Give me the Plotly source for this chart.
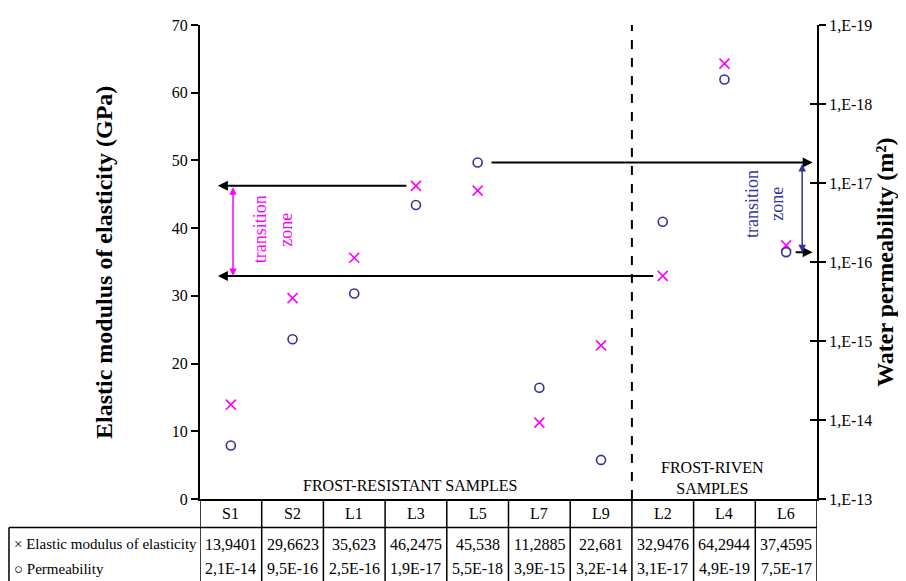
import math
import plotly.graph_objects as go

samples = ["S1", "S2", "L1", "L3", "L5", "L7", "L9", "L2", "L4", "L6"]
elastic = [13.9401, 29.6623, 35.623, 46.2475, 45.538, 11.2885, 22.681, 32.9476, 64.2944, 37.4595]
elastic_txt = ["13,9401", "29,6623", "35,623", "46,2475", "45,538", "11,2885", "22,681", "32,9476", "64,2944", "37,4595"]
perm = [2.1e-14, 9.5e-16, 2.5e-16, 1.9e-17, 5.5e-18, 3.9e-15, 3.2e-14, 3.1e-17, 4.9e-19, 7.5e-17]
perm_txt = ["2,1E-14", "9,5E-16", "2,5E-16", "1,9E-17", "5,5E-18", "3,9E-15", "3,2E-14", "3,1E-17", "4,9E-19", "7,5E-17"]
perm_ticks = [1e-13, 1e-14, 1e-15, 1e-16, 1e-17, 1e-18, 1e-19]
perm_ticktext = ["1,E-13", "1,E-14", "1,E-15", "1,E-16", "1,E-17", "1,E-18", "1,E-19"]
elastic_ticks = [0, 10, 20, 30, 40, 50, 60, 70]

FONT = "Liberation Serif"
MAG = "#FF00FF"
BLUE = "#333399"
idx = list(range(len(samples)))

fig = go.Figure()
fig.add_trace(go.Scatter(x=idx, y=elastic, mode="markers", xaxis="x", yaxis="y",
                         marker=dict(symbol="x-thin", size=10, line=dict(color=MAG, width=1.6)),
                         name="Elastic modulus of elasticity"))
fig.add_trace(go.Scatter(x=idx, y=perm, mode="markers", xaxis="x", yaxis="y2",
                         marker=dict(symbol="circle-open", size=9, color=BLUE, line=dict(color=BLUE, width=1.6)),
                         name="Permeability"))
fig.add_trace(go.Scatter(x=idx, y=perm, mode="none", xaxis="x", yaxis="y3",
                         showlegend=False, hoverinfo="skip"))

logr = [math.log10(perm_ticks[0]), math.log10(perm_ticks[-1])]

fig.update_layout(
    width=898, height=573,
    margin=dict(l=192, r=89, t=9, b=82),
    paper_bgcolor="white", plot_bgcolor="white",
    showlegend=False,
    font=dict(family=FONT, color="black", size=16),
    xaxis=dict(range=[-0.5, len(samples) - 0.5], showticklabels=False, ticks="",
               showgrid=False, zeroline=False, showline=True, linecolor="black", linewidth=2),
    yaxis=dict(range=[0, 70], tickvals=elastic_ticks, ticks="outside", ticklen=7, tickwidth=1.5,
               tickcolor="black", showgrid=False, zeroline=False, showline=True,
               linecolor="black", linewidth=2, tickfont=dict(size=16, family=FONT)),
    yaxis2=dict(type="log", range=logr, overlaying="y", side="right", anchor="x",
                tickvals=perm_ticks, ticktext=perm_ticktext, ticks="outside", ticklen=7,
                tickwidth=1.5, tickcolor="black", showgrid=False, zeroline=False, showline=True,
                linecolor="black", linewidth=2, tickfont=dict(size=16, family=FONT)),
    yaxis3=dict(type="log", range=logr, overlaying="y", side="right", anchor="x",
                tickvals=perm_ticks, showticklabels=False, ticks="inside", ticklen=7,
                tickwidth=1.5, tickcolor="black", showgrid=False, zeroline=False, showline=False),
)

shapes = []
# dashed separator between groups
shapes.append(dict(type="line", xref="x", yref="y", x0=6.5, x1=6.5, y0=0, y1=70,
                   line=dict(color="black", width=2, dash="dash")))
# table
yr1_top, yr1_bot, ybot = 0, -0.060, -0.175
for i in range(len(samples) + 1):
    shapes.append(dict(type="line", xref="x", yref="paper", x0=i - 0.5, x1=i - 0.5,
                       y0=yr1_top, y1=ybot, line=dict(color="black", width=1.5)))
shapes.append(dict(type="line", xref="paper", yref="paper", x0=-0.3096, x1=1, y0=yr1_bot, y1=yr1_bot,
                   line=dict(color="black", width=1.5)))
shapes.append(dict(type="line", xref="paper", yref="paper", x0=-0.3096, x1=-0.3096, y0=yr1_bot, y1=ybot,
                   line=dict(color="black", width=1.5)))
fig.update_layout(shapes=shapes)

ann = []
for i, s in enumerate(samples):
    ann.append(dict(x=i, y=-0.031, xref="x", yref="paper", text=s, showarrow=False,
                    xanchor="center", yanchor="middle", font=dict(size=16, family=FONT)))
    ann.append(dict(x=i, y=-0.0954, xref="x", yref="paper", text=elastic_txt[i], showarrow=False,
                    xanchor="center", yanchor="middle", font=dict(size=16, family=FONT)))
    ann.append(dict(x=i, y=-0.147, xref="x", yref="paper", text=perm_txt[i], showarrow=False,
                    xanchor="center", yanchor="middle", font=dict(size=16, family=FONT)))
ann.append(dict(x=-0.305, y=-0.0954, xref="paper", yref="paper", xanchor="left", yanchor="middle",
                text="× Elastic modulus of elasticity", showarrow=False, font=dict(size=15, family=FONT)))
ann.append(dict(x=-0.305, y=-0.147, xref="paper", yref="paper", xanchor="left", yanchor="middle",
                text="○ Permeability", showarrow=False, font=dict(size=15, family=FONT)))

# axis titles
ann.append(dict(x=-0.1556, y=0.5, xref="paper", yref="paper", text="<b>Elastic modulus of elasticity (GPa)</b>",
                textangle=-90, xanchor="center", yanchor="middle", showarrow=False,
                font=dict(size=24, family=FONT)))
ann.append(dict(x=1.11, y=0.5, xref="paper", yref="paper", text="<b>Water permeability (m²)</b>",
                textangle=-90, xanchor="center", yanchor="middle", showarrow=False,
                font=dict(size=24, family=FONT)))

# group labels
ann.append(dict(x=2.9, y=2.0, xref="x", yref="y", text="FROST-RESISTANT SAMPLES", showarrow=False,
                xanchor="center", yanchor="middle", font=dict(size=16, family=FONT)))
ann.append(dict(x=7.8, y=3.1, xref="x", yref="y", text="FROST-RIVEN<br>SAMPLES", showarrow=False,
                xanchor="center", yanchor="middle", font=dict(size=16, family=FONT)))

# black arrows on elastic side
for k in (3, 7):
    ann.append(dict(x=-0.21, y=elastic[k], xref="x", yref="y", ax=k - 0.13, ay=elastic[k],
                    axref="x", ayref="y", showarrow=True, arrowhead=2, arrowsize=1,
                    arrowwidth=2, arrowcolor="black", text=""))
# magenta double arrow
ann.append(dict(x=0.035, y=elastic[7], xref="x", yref="y", ax=0.035, ay=elastic[3],
                axref="x", ayref="y", showarrow=True, arrowhead=2, startarrowhead=2,
                arrowside="end+start", arrowsize=1, arrowwidth=1.5, arrowcolor=MAG, text=""))
ann.append(dict(x=0.47, y=39.8, xref="x", yref="y", text="transition", textangle=-90,
                showarrow=False, font=dict(size=18, family=FONT, color=MAG)))
ann.append(dict(x=0.88, y=39.8, xref="x", yref="y", text="zone", textangle=-90,
                showarrow=False, font=dict(size=18, family=FONT, color=MAG)))

# black arrows on permeability side
for k, off in ((4, 0.2), (9, 0.13)):
    ly = math.log10(perm[k])
    ann.append(dict(x=9.43, y=ly, xref="x", yref="y2", ax=k + off, ay=ly,
                    axref="x", ayref="y2", showarrow=True, arrowhead=2, arrowsize=1,
                    arrowwidth=2, arrowcolor="black", text=""))
# blue double arrow
ann.append(dict(x=9.26, y=math.log10(perm[9]), xref="x", yref="y2", ax=9.26, ay=math.log10(perm[4]),
                axref="x", ayref="y2", showarrow=True, arrowhead=2, startarrowhead=2,
                arrowside="end+start", arrowsize=1, arrowwidth=1.5, arrowcolor=BLUE, text=""))
ann.append(dict(x=8.45, y=43.6, xref="x", yref="y", text="transition", textangle=-90,
                showarrow=False, font=dict(size=18, family=FONT, color=BLUE)))
ann.append(dict(x=8.85, y=43.6, xref="x", yref="y", text="zone", textangle=-90,
                showarrow=False, font=dict(size=18, family=FONT, color=BLUE)))

fig.update_layout(annotations=ann)
fig.write_html("out.html")
